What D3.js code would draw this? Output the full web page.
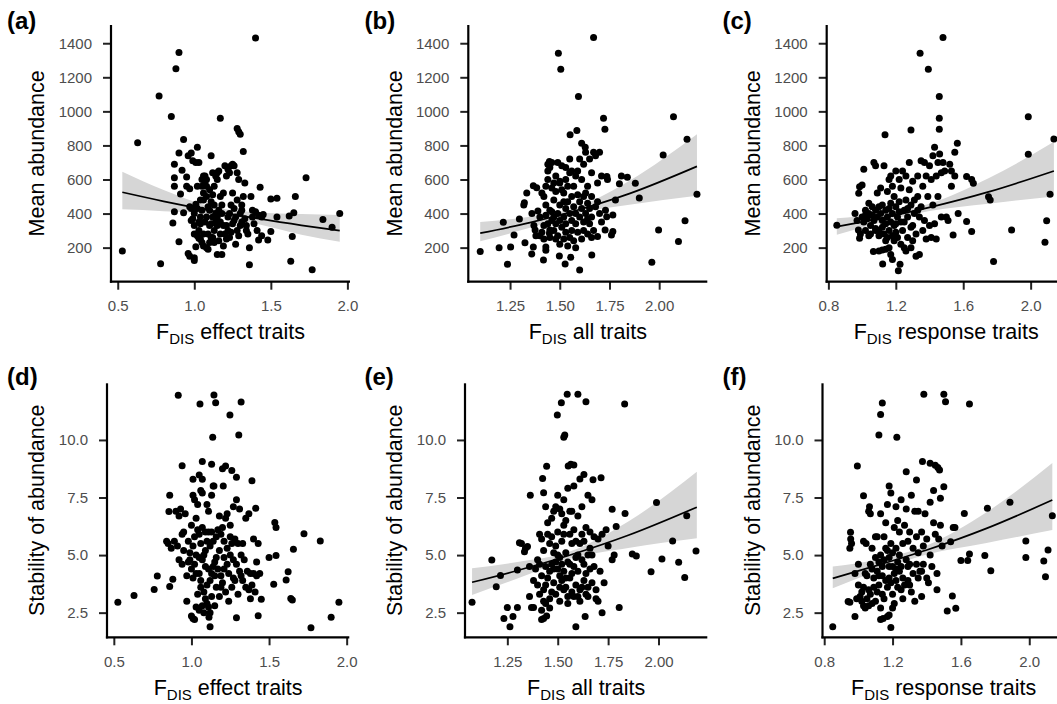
<!DOCTYPE html>
<html><head><meta charset="utf-8">
<script src="https://cdn.jsdelivr.net/npm/d3@7"></script>
<style>body{margin:0;background:#fff}svg{display:block}</style>
</head><body>
<script>
// ---------- DATA ----------
const ticksEffect = [0.5, 1.0, 1.5, 2.0];
const ticksAll = [1.25, 1.50, 1.75, 2.00];
const ticksResp = [0.8, 1.2, 1.6, 2.0];
const ticksAbund = [200, 400, 600, 800, 1000, 1200, 1400];
const ticksStab = [2.5, 5.0, 7.5, 10.0];
const panelLabels = ["(a)", "(b)", "(c)", "(d)", "(e)", "(f)"];
const xTitles = ["effect traits", "all traits", "response traits"];
const yTitles = ["Mean abundance", "Stability of abundance"];

// (a) FDIS effect traits vs mean abundance
const ptsA = [[0.53,180],[0.63,815],[0.77,1090],[0.78,105],[0.85,970],[0.88,1250],[0.90,1345],[1.40,1430],[1.17,960],[1.28,900],[1.29,880],[1.30,865],[1.32,765],[0.93,835],
[0.87,690],[0.87,610],[0.87,560],[0.87,410],[0.86,345],[0.90,755],[0.91,515],[0.92,655],[0.90,235],[0.93,405],
[0.96,740],[0.98,755],[0.99,710],[0.95,615],[0.95,560],[0.97,545],[0.97,440],[0.96,165],[0.97,150],[1.00,140],[1.00,125],
[1.02,790],[1.03,700],[1.01,700],[1.01,205],[1.00,280],[1.00,330],[0.98,360],[0.99,370],[1.00,400],[1.01,455],[1.02,430],[1.02,270],[1.03,255],[1.03,300],[1.04,340],[1.04,380],[1.05,420],[1.05,600],[1.05,560],[1.06,620],[1.06,520],[1.06,480],[1.07,590],[1.07,620],[1.08,600],[1.08,500],[1.08,380],[1.07,350],[1.06,280],[1.05,230],[1.04,250],[1.06,210],[1.08,200],[1.09,190],[1.10,230],[1.11,260],[1.09,280],[1.10,330],[1.11,340],[1.12,380],[1.10,420],[1.11,470],[1.12,510],[1.10,540],[1.11,740],[1.13,560],[1.14,620],[1.15,640],[1.15,600],[1.16,650],[1.13,450],[1.14,400],[1.14,350],[1.15,330],[1.13,300],[1.12,260],[1.13,230],[1.15,160],[1.16,240],[1.17,280],[1.17,350],[1.18,400],[1.18,450],[1.17,500],[1.19,520],[1.20,680],[1.21,620],[1.22,660],[1.23,640],[1.24,680],[1.25,690],[1.26,680],[1.25,520],[1.23,400],[1.22,380],[1.21,330],[1.20,280],[1.19,210],[1.21,250],[1.23,260],[1.24,290],[1.25,340],[1.26,360],[1.27,380],[1.28,300],[1.27,220],[1.29,270],[1.30,330],[1.30,400],[1.31,420],[1.31,450],[1.32,500],[1.33,580],[1.29,600],[1.28,640],[1.31,350],[1.33,370],[1.34,300],[1.35,280],[1.34,330],[1.36,200],[1.36,100],[1.37,500],[1.38,420],[1.38,380],[1.39,340],[1.40,410],[1.41,300],[1.42,245],[1.42,390],[1.43,555],[1.44,380],[1.44,270],[1.45,395],[1.48,245],[1.50,485],[1.50,295],[1.54,490],[1.54,380],[1.63,120],[1.62,385],[1.64,265],[1.65,405],[1.66,500],[1.73,610],[1.77,70],[1.84,365],[1.90,320],[1.95,400],[1.18,160],[1.08,560],[1.02,560],[1.04,480],[1.16,420],[1.19,330],[1.24,450],[1.26,430],[1.28,480],[1.22,300],[1.15,380],[1.09,440],[1.12,640],[0.98,430],[1.03,350]];

// (b) FDIS all traits vs mean abundance
const ptsB = [[1.10,177],[1.195,200],[1.216,349],[1.237,102],[1.253,204],[1.27,274],[1.297,368],[1.319,450],[1.322,464],[1.334,521],[1.325,229],[1.359,163],[1.367,204],[1.367,564],[1.384,552],[1.376,304],[1.418,128],[1.43,204],[1.43,184],[1.448,284],[1.45,304],[1.448,705],[1.498,151],[1.493,1341],[1.505,1247],[1.527,104],[1.555,143],[1.552,863],[1.586,887],[1.594,1087],[1.60,69],[1.67,1433],[1.61,813],[1.628,789],[1.661,157],[1.72,959],[1.727,895],[1.737,617],[1.69,265],[1.728,304],[1.736,382],[1.767,294],[1.76,274],[1.767,392],[1.78,480],[1.80,575],[1.81,621],[1.84,613],[1.88,578],[1.90,491],[1.963,114],[1.997,304],[2.02,744],[2.072,969],[2.097,236],[2.13,358],[2.14,836],[2.19,513],
[1.39,415],[1.40,380],[1.40,270],[1.41,290],[1.41,520],[1.42,500],[1.42,330],[1.42,250],[1.43,390],[1.43,450],[1.44,600],[1.44,650],[1.44,690],[1.45,670],[1.45,420],[1.45,260],[1.46,360],[1.46,700],[1.46,550],[1.47,300],[1.47,480],[1.47,380],[1.48,250],[1.48,340],[1.48,620],[1.49,700],[1.49,400],[1.49,270],[1.50,580],[1.50,590],[1.50,450],[1.50,360],[1.51,320],[1.51,540],[1.51,680],[1.52,520],[1.52,380],[1.52,250],[1.53,600],[1.53,430],[1.53,290],[1.53,340],[1.54,560],[1.54,470],[1.54,210],[1.55,400],[1.55,260],[1.55,640],[1.56,650],[1.56,360],[1.56,500],[1.57,440],[1.57,560],[1.57,240],[1.58,340],[1.58,620],[1.58,400],[1.59,510],[1.59,290],[1.60,470],[1.60,720],[1.60,380],[1.61,600],[1.61,430],[1.62,300],[1.62,350],[1.62,690],[1.63,760],[1.63,400],[1.63,520],[1.64,370],[1.64,560],[1.64,280],[1.65,720],[1.65,430],[1.65,340],[1.66,500],[1.66,640],[1.66,380],[1.67,760],[1.67,300],[1.68,740],[1.68,440],[1.69,470],[1.69,580],[1.70,400],[1.70,760],[1.71,350],[1.71,620],[1.73,420],[1.74,600],[1.52,470],[1.46,410],[1.44,340],[1.56,300],[1.61,250],[1.50,220],[1.58,200],[1.38,270],[1.37,330],[1.36,400],[1.47,580],[1.64,460],[1.59,650],[1.55,720],[1.53,670],[1.48,530],[1.62,500],[1.66,260],[1.43,560]];

// (c) FDIS response traits vs mean abundance
const ptsC = [[0.85,331],[0.958,401],[0.98,519],[0.985,558],[1.0,568],[1.01,660],[0.978,304],[0.985,255],[1.067,177],[1.08,313],[1.122,104],[1.136,863],[1.12,186],[1.16,200],[1.17,160],[1.18,130],[1.215,65],[1.225,102],[1.29,891],[1.344,1341],[1.393,1247],[1.48,1433],[1.458,1087],[1.458,959],[1.458,895],[1.565,813],[1.62,617],[1.65,600],[1.66,578],[1.62,353],[1.65,294],[1.57,401],[1.54,274],[1.75,498],[1.76,480],[1.78,118],[1.887,304],[1.986,969],[1.986,748],[2.085,231],[2.095,358],[2.115,513],[2.138,838],
[1.00,380],[1.01,350],[1.02,420],[1.02,300],[1.03,370],[1.04,400],[1.04,460],[1.05,330],[1.05,280],[1.06,390],[1.06,440],[1.07,360],[1.07,700],[1.08,680],[1.08,420],[1.09,380],[1.09,520],[1.10,300],[1.10,270],[1.10,440],[1.11,400],[1.11,550],[1.12,360],[1.12,320],[1.13,280],[1.13,680],[1.14,420],[1.14,240],[1.15,380],[1.15,530],[1.15,260],[1.16,600],[1.16,300],[1.17,350],[1.17,460],[1.17,620],[1.18,270],[1.18,400],[1.18,560],[1.19,330],[1.19,240],[1.19,500],[1.20,440],[1.20,650],[1.20,290],[1.21,380],[1.21,260],[1.22,600],[1.22,470],[1.23,220],[1.23,350],[1.23,550],[1.24,650],[1.24,300],[1.25,420],[1.25,200],[1.26,480],[1.26,620],[1.27,380],[1.27,260],[1.28,700],[1.28,540],[1.29,320],[1.29,450],[1.30,590],[1.30,240],[1.31,400],[1.31,480],[1.32,150],[1.32,280],[1.33,620],[1.33,500],[1.34,160],[1.34,380],[1.35,710],[1.35,440],[1.36,300],[1.36,560],[1.37,700],[1.37,360],[1.38,620],[1.38,250],[1.39,500],[1.40,680],[1.40,330],[1.41,600],[1.41,260],[1.42,740],[1.42,450],[1.43,790],[1.43,340],[1.44,620],[1.44,250],[1.45,700],[1.45,500],[1.46,750],[1.47,640],[1.47,380],[1.48,700],[1.49,650],[1.50,380],[1.51,360],[1.52,690],[1.53,560],[1.53,650],[1.55,760],[1.55,620],[1.12,450],[1.16,430],[1.20,340],[1.25,350],[1.14,340],[1.08,300],[1.22,410],[1.27,430],[1.30,330],[1.33,420],[1.10,180],[1.14,190],[1.26,180],[1.29,200],[1.04,270],[0.99,280],[0.97,360],[1.02,390]];

// (d) FDIS effect traits vs stability
const ptsD = [[0.526,2.95],[0.63,3.24],[0.76,3.51],[0.78,4.09],[0.86,3.64],[0.88,3.95],[0.86,7.6],[0.855,6.89],[0.915,11.94],[0.94,8.88],[1.12,1.89],[1.145,11.95],[1.156,11.62],[1.055,11.56],[1.248,11.08],[1.32,11.65],[1.137,10.12],[1.305,10.22],[1.07,9.06],[1.13,8.95],[1.05,8.48],[1.07,8.29],[1.01,8.29],[1.2,8.75],[1.22,8.87],[1.26,8.67],[1.29,8.38],[1.39,8.23],[1.145,8.0],[1.205,8.0],[1.414,7.03],[1.537,6.42],[1.545,6.2],[1.725,5.93],[1.83,5.61],[1.657,5.25],[1.545,4.98],[1.50,4.9],[1.623,4.28],[1.61,3.92],[1.53,3.73],[1.64,3.12],[1.65,3.05],[1.45,3.08],[1.43,2.37],[1.77,1.85],[1.90,2.3],[1.95,2.95],[1.29,2.28],[1.113,2.3],[1.0,2.35],[1.01,2.25],[1.02,2.2],
[0.84,5.6],[0.85,5.5],[0.87,5.3],[0.89,5.6],[0.90,6.9],[0.91,5.4],[0.92,6.7],[0.93,7.0],[0.92,4.8],[0.94,4.6],[0.95,5.2],[0.95,6.0],[0.96,6.8],[0.97,4.1],[0.97,3.0],[0.98,5.6],[0.99,4.8],[1.00,6.3],[1.00,4.4],[1.01,7.6],[1.01,4.0],[1.02,7.4],[1.02,5.8],[1.02,4.6],[1.03,2.75],[1.03,5.0],[1.04,6.1],[1.04,7.2],[1.04,3.3],[1.05,5.9],[1.05,4.2],[1.06,7.8],[1.06,5.5],[1.06,3.6],[1.07,7.7],[1.07,4.8],[1.07,2.8],[1.08,5.0],[1.08,3.4],[1.08,2.5],[1.09,6.0],[1.09,4.5],[1.10,3.7],[1.10,5.6],[1.10,7.2],[1.11,2.75],[1.11,4.4],[1.11,6.9],[1.12,3.9],[1.12,5.4],[1.13,7.6],[1.13,6.0],[1.13,3.2],[1.14,4.5],[1.14,8.0],[1.15,4.7],[1.15,2.8],[1.16,5.8],[1.16,3.6],[1.17,6.1],[1.17,4.4],[1.18,3.2],[1.18,5.2],[1.19,5.9],[1.19,4.1],[1.20,6.2],[1.20,3.8],[1.21,5.6],[1.21,4.9],[1.22,6.6],[1.22,3.4],[1.23,5.3],[1.23,6.8],[1.24,4.2],[1.24,3.0],[1.25,5.0],[1.25,6.3],[1.26,3.6],[1.26,5.5],[1.27,4.0],[1.27,7.1],[1.28,5.7],[1.28,3.9],[1.29,4.6],[1.29,7.4],[1.30,5.5],[1.30,3.3],[1.31,4.3],[1.31,7.0],[1.32,4.1],[1.32,5.0],[1.33,3.9],[1.34,4.8],[1.35,3.6],[1.35,6.6],[1.36,4.3],[1.37,3.5],[1.37,6.8],[1.38,4.2],[1.38,3.1],[1.39,3.7],[1.40,5.7],[1.40,4.2],[1.41,3.4],[1.42,4.7],[1.42,4.1],[1.43,5.5],[1.44,4.2],[1.03,4.2],[1.09,3.1],[1.15,4.1],[1.12,2.5],[0.98,4.7],[1.05,2.6],
[0.99,5.1],[1.01,5.4],[1.03,6.6],[1.05,4.9],[1.07,6.2],[1.09,5.2],[1.11,6.0],[1.13,4.2],[1.14,5.6],[1.16,4.9],[1.18,6.7],[1.19,3.6],[1.21,4.4],[1.23,4.6],[1.25,5.8],[1.27,4.8],[1.10,2.9],[1.06,3.9],[0.94,5.9],[1.33,5.5]];

// (e) FDIS all traits vs stability
const ptsE = [[1.075,2.95],[1.173,4.79],[1.195,3.63],[1.216,4.11],[1.233,2.25],[1.25,2.72],[1.263,1.89],[1.278,2.33],[1.30,2.72],[1.30,4.35],[1.31,5.54],[1.32,5.5],[1.335,5.15],[1.34,5.3],[1.35,5.37],[1.36,3.2],[1.37,2.72],[1.38,2.72],[1.364,7.6],[1.425,8.33],[1.43,7.71],[1.445,8.86],[1.42,2.2],[1.43,2.25],[1.445,2.35],[1.498,11.08],[1.518,11.62],[1.547,11.98],[1.53,10.12],[1.535,10.22],[1.552,8.87],[1.565,8.95],[1.58,8.91],[1.60,11.98],[1.64,11.66],[1.832,11.56],[1.59,1.89],[1.636,2.33],[1.675,8.27],[1.715,8.36],[1.72,2.5],[1.805,2.72],[1.77,6.99],[1.79,6.24],[1.834,6.81],[1.77,4.8],[1.78,5.0],[1.87,5.05],[1.89,4.96],[1.963,4.28],[1.99,7.28],[2.017,4.83],[2.07,5.61],[2.10,4.69],[2.13,4.03],[2.14,6.71],[2.186,5.18],
[1.39,4.4],[1.40,3.7],[1.40,4.8],[1.41,5.9],[1.41,3.3],[1.42,5.7],[1.42,4.1],[1.43,5.2],[1.43,3.5],[1.44,4.5],[1.44,7.1],[1.44,2.9],[1.45,6.4],[1.45,4.0],[1.46,5.5],[1.46,3.1],[1.46,2.7],[1.47,6.6],[1.47,4.6],[1.48,3.8],[1.48,6.9],[1.49,5.4],[1.49,3.3],[1.49,7.1],[1.50,4.4],[1.50,7.6],[1.50,6.0],[1.51,3.0],[1.51,7.0],[1.51,4.9],[1.52,6.8],[1.52,3.9],[1.52,5.6],[1.53,4.3],[1.53,7.4],[1.54,3.6],[1.54,5.1],[1.54,6.5],[1.55,4.7],[1.55,7.9],[1.55,2.9],[1.56,5.9],[1.56,4.0],[1.57,6.9],[1.57,3.4],[1.57,5.5],[1.58,4.5],[1.58,8.0],[1.58,6.1],[1.59,3.7],[1.59,5.6],[1.60,4.3],[1.60,3.2],[1.60,6.7],[1.61,5.5],[1.61,8.3],[1.61,3.0],[1.62,4.8],[1.62,7.1],[1.63,5.6],[1.63,3.9],[1.63,8.5],[1.64,6.2],[1.64,4.2],[1.65,5.0],[1.65,7.6],[1.65,3.6],[1.66,6.0],[1.66,4.4],[1.67,7.4],[1.67,3.8],[1.68,5.8],[1.68,4.5],[1.69,3.1],[1.69,3.5],[1.70,5.7],[1.70,3.0],[1.71,4.3],[1.72,5.9],[1.73,3.8],[1.74,6.1],[1.75,5.4],[1.47,5.8],[1.53,3.5],[1.56,4.6],[1.62,3.6],[1.48,5.1],[1.58,3.2],[1.44,3.7],[1.66,5.3],[1.42,2.6],[1.38,3.9],[1.36,4.5],[1.51,4.1],[1.60,5.0],[1.64,3.3],[1.55,3.2],[1.49,4.7],
[1.41,4.6],[1.43,3.0],[1.45,5.9],[1.46,4.3],[1.47,3.4],[1.48,4.4],[1.50,5.0],[1.51,3.6],[1.52,4.6],[1.53,5.9],[1.54,4.0],[1.56,6.9],[1.57,4.2],[1.59,4.9],[1.61,3.5],[1.62,5.9],[1.63,4.6],[1.65,3.2],[1.67,5.0],[1.53,6.3]];

// (f) FDIS response traits vs stability
const ptsF = [[0.85,1.89],[0.954,5.99],[0.955,5.7],[0.96,5.5],[0.95,5.3],[0.94,2.98],[0.95,2.95],[0.98,2.33],[0.994,8.87],[0.98,4.2],[1.03,7.58],[1.065,7.1],[1.06,6.9],[1.07,6.8],[1.03,5.6],[1.045,5.5],[1.08,5.3],[1.10,5.8],[1.12,10.22],[1.13,11.1],[1.14,11.6],[1.225,10.12],[1.383,11.98],[1.50,11.98],[1.51,11.66],[1.65,11.56],[1.375,9.06],[1.42,8.99],[1.45,8.9],[1.465,8.8],[1.475,8.7],[1.28,8.62],[1.34,8.26],[1.50,7.97],[1.48,7.47],[1.52,2.57],[1.57,2.69],[1.55,3.22],[1.555,6.2],[1.565,6.2],[1.54,5.58],[1.62,6.81],[1.65,5.05],[1.60,4.76],[1.64,4.76],[1.755,7.03],[1.74,4.98],[1.775,4.32],[1.887,7.29],[1.98,5.61],[1.98,4.9],[2.085,4.74],[2.095,4.06],[2.11,5.22],[2.135,6.71],[1.19,1.86],[1.17,2.33],[1.18,2.4],[1.13,2.2],[1.145,2.25],
[0.99,3.1],[1.00,3.7],[1.00,4.6],[1.01,3.2],[1.02,3.0],[1.03,2.8],[1.03,3.6],[1.04,4.2],[1.04,2.7],[1.05,3.1],[1.06,2.8],[1.06,3.5],[1.07,4.6],[1.07,3.3],[1.08,2.9],[1.08,4.4],[1.09,3.6],[1.10,3.0],[1.10,4.9],[1.11,3.4],[1.11,4.3],[1.12,4.7],[1.12,3.7],[1.13,2.7],[1.13,5.0],[1.13,6.8],[1.14,4.1],[1.14,3.3],[1.15,5.8],[1.15,4.8],[1.16,3.9],[1.16,6.4],[1.17,5.2],[1.17,3.6],[1.17,7.2],[1.18,4.9],[1.18,4.0],[1.18,8.0],[1.19,5.5],[1.19,3.8],[1.19,7.7],[1.20,5.1],[1.20,4.5],[1.20,2.7],[1.21,6.2],[1.21,4.2],[1.22,5.3],[1.22,3.9],[1.22,7.1],[1.23,4.7],[1.23,3.6],[1.24,6.0],[1.24,4.3],[1.25,7.4],[1.25,3.5],[1.26,5.5],[1.26,4.0],[1.27,6.3],[1.27,3.7],[1.28,4.8],[1.28,7.0],[1.29,5.6],[1.29,3.9],[1.30,4.6],[1.30,6.0],[1.31,7.6],[1.31,3.4],[1.32,5.3],[1.32,4.2],[1.33,6.9],[1.33,3.0],[1.34,4.6],[1.34,5.8],[1.35,4.0],[1.35,6.9],[1.36,4.3],[1.37,6.0],[1.37,3.2],[1.38,5.4],[1.38,4.6],[1.39,6.8],[1.40,4.0],[1.40,5.7],[1.41,3.8],[1.42,7.3],[1.42,5.0],[1.43,4.5],[1.44,6.4],[1.45,5.9],[1.46,4.2],[1.46,3.5],[1.47,5.7],[1.48,6.3],[1.49,5.4],[1.44,7.8],[1.23,6.5],[1.15,3.1],[1.21,2.9],[1.26,3.1],[1.09,4.0],[1.35,5.1],[1.29,4.5],[1.16,5.3],[1.11,5.8],[1.24,5.0],
[1.02,3.4],[1.05,4.1],[1.12,4.1],[1.14,4.5],[1.18,4.5],[1.20,3.3],[1.22,4.4],[1.25,4.5],[1.30,3.7],[1.37,4.3]];

// fitted trend lines: [x, fit, lower, upper]
const fitA = [[0.53,525,425,646],[0.8,472,414,539],[1.1,419,397,443],[1.4,373,341,408],[1.7,331,276,397],[1.95,300,235,392]];
const fitB = [[1.10,285,237,350],[1.35,347,316,382],[1.6,424,405,443],[1.85,517,452,592],[2.19,677,505,865]];
const fitC = [[0.85,323,276,372],[1.1,370,344,398],[1.4,436,415,458],[1.75,527,458,607],[2.138,650,500,822]];
const fitE = [[1.075,3.82,3.27,4.43],[1.3,4.33,3.98,4.70],[1.55,4.97,4.82,5.12],[1.85,5.86,5.31,6.46],[2.19,7.08,5.73,8.62]];
const fitF = [[0.85,3.99,3.56,4.50],[1.1,4.53,4.29,4.79],[1.4,5.22,5.03,5.42],[1.75,6.16,5.53,6.86],[2.135,7.39,6.09,9.00]];

// axis domains
const xDomEffect = [0.456, 2.017];
const xDomAll = [1.04, 2.242];
const xDomResp = [0.79, 2.208];
const yDomAbund = [0, 1507];
const yDomStab = [1.43, 12.46];

// ---------- LAYOUT ----------
const W = 1057, H = 704;
const FONT = "'Liberation Sans', Arial, Helvetica, sans-serif";
const colBase = [0, 357.5, 715.5];
const rows = [
  {lefts:[111, 468.3, 826.7], width:239, top:25, bottom:281.7},
  {lefts:[107, 465, 822.5], width:242.3, top:383.3, bottom:637.3}
];

const svg = d3.select("body").append("svg").attr("width", W).attr("height", H)
  .style("font-family", FONT);
svg.append("rect").attr("width", W).attr("height", H).attr("fill", "#fff");

const panels = [
  {pts:ptsA, fit:fitA, xd:xDomEffect, yd:yDomAbund, xt:ticksEffect, xf:".1f", yt:ticksAbund, yf:"d", r:0, c:0},
  {pts:ptsB, fit:fitB, xd:xDomAll, yd:yDomAbund, xt:ticksAll, xf:".2f", yt:ticksAbund, yf:"d", r:0, c:1},
  {pts:ptsC, fit:fitC, xd:xDomResp, yd:yDomAbund, xt:ticksResp, xf:".1f", yt:ticksAbund, yf:"d", r:0, c:2},
  {pts:ptsD, fit:null, xd:xDomEffect, yd:yDomStab, xt:ticksEffect, xf:".1f", yt:ticksStab, yf:".1f", r:1, c:0},
  {pts:ptsE, fit:fitE, xd:xDomAll, yd:yDomStab, xt:ticksAll, xf:".2f", yt:ticksStab, yf:".1f", r:1, c:1},
  {pts:ptsF, fit:fitF, xd:xDomResp, yd:yDomStab, xt:ticksResp, xf:".1f", yt:ticksStab, yf:".1f", r:1, c:2}
];

panels.forEach((p, i) => {
  const row = rows[p.r];
  const left = row.lefts[p.c], right = left + row.width;
  const x = d3.scaleLinear().domain(p.xd).range([left, right]);
  const y = d3.scaleLinear().domain(p.yd).range([row.bottom, row.top]);
  const g = svg.append("g");

  // ribbon
  if (p.fit) {
    const area = d3.area().x(d => x(d[0])).y0(d => y(d[2])).y1(d => y(d[3])).curve(d3.curveMonotoneX);
    g.append("path").datum(p.fit).attr("d", area).attr("fill", "#d6d6d6");
  }
  // points
  g.append("g").selectAll("circle").data(p.pts).join("circle")
    .attr("cx", d => x(d[0])).attr("cy", d => y(d[1])).attr("r", 3.5).attr("fill", "#000");
  // fitted line
  if (p.fit) {
    const line = d3.line().x(d => x(d[0])).y(d => y(d[1])).curve(d3.curveMonotoneX);
    g.append("path").datum(p.fit).attr("d", line).attr("fill", "none").attr("stroke", "#000").attr("stroke-width", 1.7);
  }

  // axes
  const xa = d3.axisBottom(x).tickValues(p.xt).tickFormat(d3.format(p.xf)).tickSize(8).tickPadding(6).tickSizeOuter(0);
  const ya = d3.axisLeft(y).tickValues(p.yt).tickFormat(d3.format(p.yf)).tickSize(8).tickPadding(11).tickSizeOuter(0);
  const gx = g.append("g").attr("transform", `translate(0,${row.bottom})`).call(xa);
  const gy = g.append("g").attr("transform", `translate(${left},0)`).call(ya);
  [gx, gy].forEach(ax => {
    ax.select(".domain").remove();
    ax.selectAll(".tick line").attr("stroke", "#222").attr("stroke-width", 2);
    ax.selectAll(".tick text").attr("fill", "#4d4d4d").style("font-size", "15px").style("font-family", FONT);
  });
  gx.selectAll(".tick text").attr("y", 19);
  g.append("line").attr("x1", left - 1.1).attr("x2", right).attr("y1", row.bottom).attr("y2", row.bottom)
    .attr("stroke", "#000").attr("stroke-width", 2.2);
  g.append("line").attr("x1", left).attr("x2", left).attr("y1", row.top).attr("y2", row.bottom + 1.1)
    .attr("stroke", "#000").attr("stroke-width", 2.2);

  // x title with subscript
  const xt = g.append("text").attr("x", (left + right) / 2).attr("y", row.bottom + 57.5)
    .attr("text-anchor", "middle").style("font-size", "21.5px").attr("fill", "#000");
  xt.append("tspan").text("F");
  xt.append("tspan").attr("dy", 5).style("font-size", "15px").text("DIS");
  xt.append("tspan").attr("dy", -5).text(" " + xTitles[p.c]);

  // y title
  svg.append("text").attr("transform", `translate(${colBase[p.c] + 36.5},${(row.top + row.bottom) / 2}) rotate(-90)`)
    .attr("text-anchor", "middle").attr("dy", "0.35em").style("font-size", "21.5px").attr("fill", "#000")
    .text(yTitles[p.r]);

  // panel label
  svg.append("text").attr("x", colBase[p.c] + 7).attr("y", p.r === 0 ? 29 : 385)
    .style("font-size", "24px").style("font-weight", "bold").attr("fill", "#000").text(panelLabels[i]);
});
</script>
</body></html>
